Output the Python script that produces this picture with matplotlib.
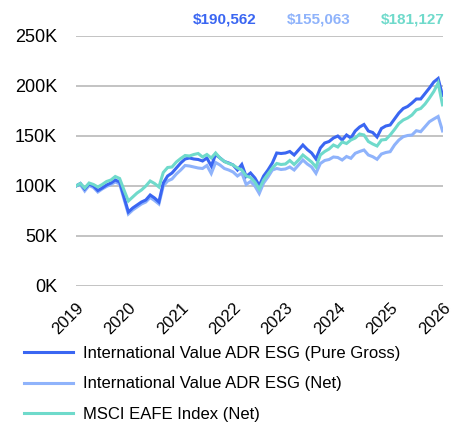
import matplotlib
matplotlib.use('Agg')
import matplotlib.pyplot as plt

plt.rcParams['font.family'] = ['Liberation Sans', 'DejaVu Sans']

# Crecimiento de 100K, valores mensuales en miles (mar 2019 - mar 2026)
YEARS = ['2019', '2020', '2021', '2022', '2023', '2024', '2025', '2026']

GROSS = [100, 102.5, 97, 102, 100, 95.5, 98, 101, 103, 106, 104, 89,
         74, 78, 81, 84, 86, 91, 88, 84, 103, 110, 113, 118,
         123, 127, 128, 127, 126.5, 125, 128, 120, 131.5, 128, 124.5, 123,
         121, 116, 121.5, 109.5, 113, 108, 100.5, 110, 116, 123, 133, 132.5,
         133, 134.5, 131, 136, 141, 136.5, 133, 127, 138, 143, 144.5, 148,
         150, 146, 151, 148, 155, 159, 161.5, 155, 153.5, 149, 157.5, 160,
         161, 167, 173, 177.5, 179.5, 183, 187, 187, 192.5, 198, 204, 207.5,
         190.562]

NET = [100, 101.5, 95, 100.5, 98.5, 94, 97, 99.5, 101.5, 104, 102, 87,
       72, 76, 79, 82, 84, 88.5, 85.5, 82, 100, 105, 107, 112,
       116, 120.5, 120, 119, 118, 117.5, 120.5, 112.5, 123.5, 121, 117.5, 116,
       114, 110, 113, 101.5, 104.5, 100, 92.5, 103, 109, 116, 117.5, 116.5,
       117, 119, 116, 121, 126, 122, 119, 112.7, 122.5, 125.5, 126.5, 129,
       128.5, 126, 129.5, 127.7, 132.7, 134.5, 136, 131, 129.3, 126.7, 132, 133.5,
       134.3, 141, 146, 149.3, 150.5, 151, 155.3, 154.3, 159.3, 164.3, 167, 169.5,
       155.063]

MSCI = [100, 102.5, 98, 103, 101.5, 99, 101.5, 104.5, 106, 109.5, 107.5, 96,
        85, 89, 93, 96, 100, 105, 102.5, 99, 113.5, 118.5, 119, 124,
        127.5, 130.5, 130, 131.5, 132.5, 129, 131.5, 128, 133, 128, 124.5, 122.5,
        121, 118, 116, 110, 108.5, 104, 97, 106, 112, 118, 122.5, 121.5,
        122, 125.5, 121.5, 126, 131, 127.5, 124, 119, 131, 134.5, 137, 141,
        139, 144, 142.5, 146, 148, 152, 151, 144.5, 142, 140, 146, 146.5,
        151, 156.5, 162.5, 166, 168, 171, 176, 177.5, 182, 188, 194.5, 203,
        181.127]

LABELS = ['International Value ADR ESG (Pure Gross)',
          'International Value ADR ESG (Net)',
          'MSCI EAFE Index (Net)']
COLORS = ['#3a66f2', '#8fb3fb', '#6fdacb']

fig = plt.figure(figsize=(4.57, 4.23), dpi=100)
ax = fig.add_axes([0.1663, 0.3239, 0.9683 - 0.1663, 0.5910])

x = list(range(len(GROSS)))
series = [GROSS, NET, MSCI]
lines = {}
for i in (1, 0, 2):
    lines[i], = ax.plot(x, series[i], color=COLORS[i], lw=2.2,
                        solid_joinstyle='miter', zorder=3, label=LABELS[i])

ax.set_xlim(0, len(GROSS) - 1)
ax.set_ylim(0, 250)
ax.set_yticks(range(0, 251, 50))
ax.set_yticklabels(['%dK' % v for v in range(0, 251, 50)], fontsize=13)
ax.set_xticks(range(0, len(GROSS), 12))
ax.set_xticklabels(YEARS, fontsize=12, rotation=45, ha='right',
                   rotation_mode='anchor')
ax.tick_params(axis='both', length=0)
ax.tick_params(axis='y', pad=13.5)
ax.tick_params(axis='x', pad=10)
ax.grid(axis='y', color='#b3b3b3', lw=1.1)
ax.set_axisbelow(True)
for s in ax.spines.values():
    s.set_visible(False)

# valores finales encima del gráfico
for xc, v, c in zip([224.5, 318.7, 413.0], series, COLORS):
    fig.text(xc / 457, 1 - 20 / 423, '${:,.0f}'.format(v[-1] * 1000),
             color=c, fontsize=11, fontweight='bold', ha='center', va='center')

fig.legend([lines[0], lines[1], lines[2]], LABELS, loc='upper left',
           bbox_to_anchor=(21 / 457, 1 - 342.5 / 423), frameon=False,
           fontsize=12, handlelength=2.9, handletextpad=0.6,
           labelspacing=0.93, borderaxespad=0, borderpad=0.2)

fig.savefig('out.png', dpi=100, facecolor='white')
